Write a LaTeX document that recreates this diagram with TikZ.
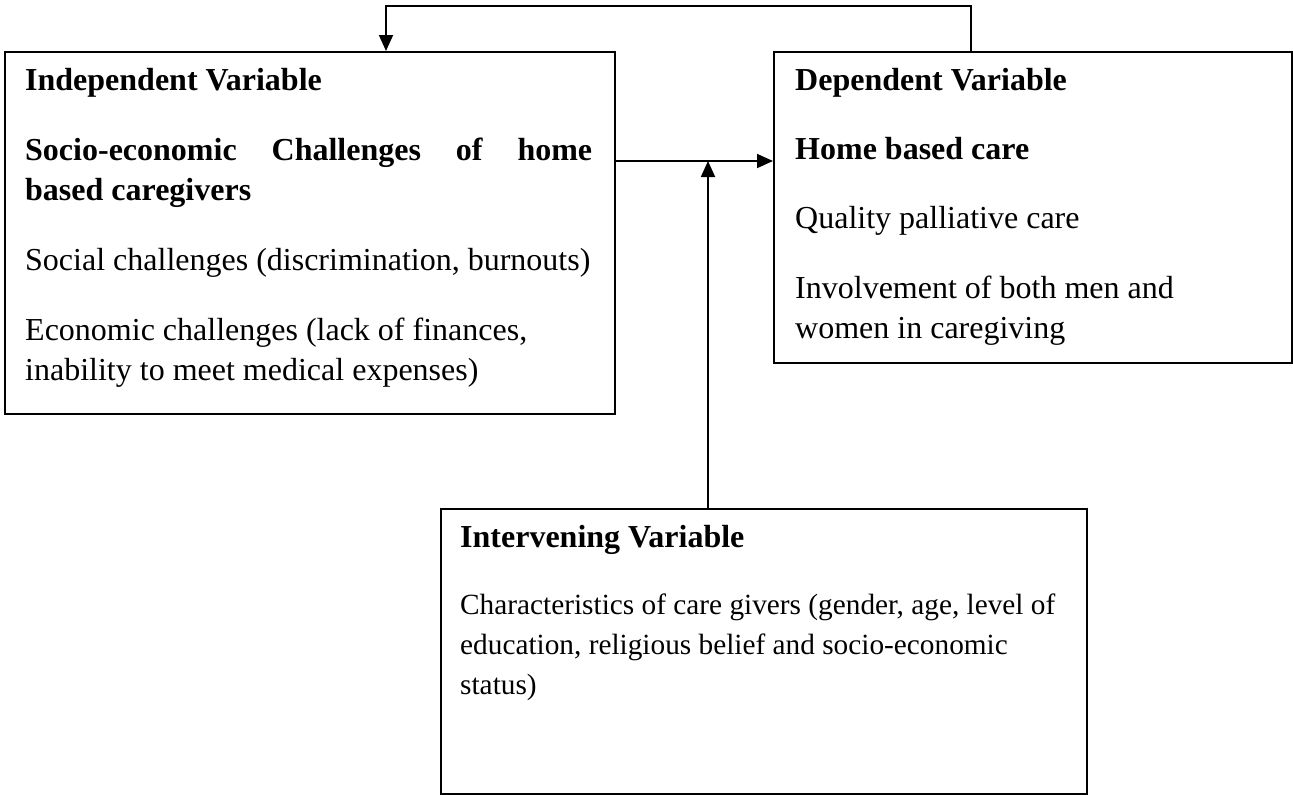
\documentclass[tikz,border=0pt]{standalone}
\usepackage{fontspec}
\setmainfont{Liberation Serif}
\usetikzlibrary{arrows.meta,positioning}

\begin{document}
\begin{tikzpicture}[x=1pt, y=-1pt, >={Triangle[length=16pt,width=14pt]},
	varbox/.style={draw, line width=1.8pt, anchor=north west, inner sep=0pt},
	vartext/.style={anchor=base west, inner sep=0pt, align=flush left, font=\fontsize{32}{40}\selectfont},
	link/.style={line width=1.8pt}]
	\useasboundingbox (0,0) rectangle (1293,795);
	
	% Ba khung biến
	\node[varbox, minimum width=610pt, minimum height=362pt] (indep) at (4,51) {};
	\node[varbox, minimum width=518pt, minimum height=311pt] (dep) at (773,51) {};
	\node[varbox, minimum width=646pt, minimum height=285pt] (interv) at (440,508) {};
	
	% Nội dung các khung
	\node[vartext, text width=580pt] (indepText) at ([shift={(21pt,-39pt)}]indep.north west) {%
		\textbf{Independent Variable}\\[30pt]
		\leavevmode\hbox to 567pt{\bfseries Socio-economic\hfill Challenges\hfill of\hfill home}\\
		\textbf{based caregivers}\\[30pt]
		Social challenges (discrimination, burnouts)\\[30pt]
		Economic challenges (lack of finances,\\
		inability to meet medical expenses)};
	\node[vartext, text width=490pt] (depText) at ([shift={(22pt,-39pt)}]dep.north west) {%
		\textbf{Dependent Variable}\\[29pt]
		\textbf{Home based care}\\[29pt]
		Quality palliative care\\[30pt]
		Involvement of both men and\\
		women in caregiving};
	\node[vartext, text width=620pt] (intervText) at ([shift={(20pt,-39pt)}]interv.north west) {%
		\textbf{Intervening Variable}\\[27pt]
		\fontsize{29.3}{40}\selectfont
		Characteristics of care givers (gender, age, level of\\
		education, religious belief and socio-economic\\
		status)};
	
	% Các mũi tên
	\coordinate (fbR) at (971,6);
	\coordinate (fbL) at (386,6);
	\coordinate (meet) at (708,161);
	\draw[link, ->] (dep.north -| fbR) -- (fbR) -- (fbL) -- (fbL |- indep.north);
	\draw[link, ->] (meet -| indep.east) -- (meet -| dep.west);
	\draw[link, ->] (interv.north -| meet) -- (meet);
\end{tikzpicture}
\end{document}
